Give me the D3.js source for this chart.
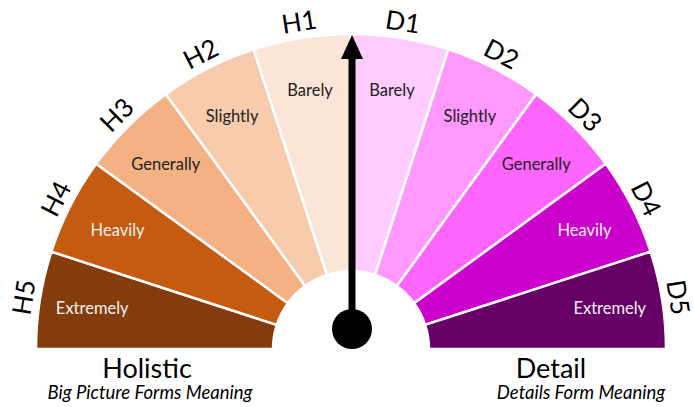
<!DOCTYPE html>
<html>
<head>
<meta charset="utf-8">
<script src="https://cdn.jsdelivr.net/npm/d3@7"></script>
<style>
  body { margin: 0; background: #fff; }
  svg { display: block; font-family: Lato, "Open Sans", sans-serif; }
</style>
</head>
<body>
<svg id="chart"></svg>
<script>
// gauge bands, left to right
const codes = ["H5", "H4", "H3", "H2", "H1", "D1", "D2", "D3", "D4", "D5"];
const degrees = ["Extremely", "Heavily", "Generally", "Slightly", "Barely",
                 "Barely", "Slightly", "Generally", "Heavily", "Extremely"];
const weights = [1, 1, 1, 1, 1, 1, 1, 1, 1, 1];
const fills = ["#843c0c", "#c55a11", "#f4b183", "#f8cbad", "#fbe5d6",
               "#ffccff", "#ff99ff", "#ff66ff", "#cc00cc", "#660066"];
const textFills = ["#f2f2f2", "#f2f2f2", "#222", "#222", "#222",
                   "#222", "#222", "#222", "#f2f2f2", "#f2f2f2"];
const needleValue = 0;   // -5 (holistic) .. 5 (detail)
const sideTitles = ["Holistic", "Detail"];
const sideSubtitles = ["Big Picture Forms Meaning", "Details Form Meaning"];
const topTitles = ["Feelings Drive Perception", "Reason Drives Perception"];

const width = 694, height = 407;
const cx = 351, cy = 349;
const outerR = 315, innerR = 78;

const svg = d3.select("#chart").attr("width", width).attr("height", height);
const g = svg.append("g").attr("transform", "translate(" + cx + "," + cy + ")");

const pie = d3.pie().sort(null).startAngle(-Math.PI / 2).endAngle(Math.PI / 2);
const arcs = pie(weights);
const arc = d3.arc().innerRadius(innerR).outerRadius(outerR);

g.selectAll("path.band")
  .data(arcs)
  .enter()
  .append("path")
  .attr("class", "band")
  .attr("d", arc)
  .style("fill", (d, i) => fills[i])
  .style("stroke", "#fff")
  .style("stroke-width", 2.5);

// words inside bands
const mid = d => (d.startAngle + d.endAngle) / 2;
const labelR = 262;
g.selectAll("text.degree")
  .data(arcs)
  .enter()
  .append("text")
  .attr("class", "degree")
  .attr("x", d => labelR * Math.sin(mid(d)))
  .attr("y", d => -labelR * Math.cos(mid(d)))
  .attr("text-anchor", "middle")
  .attr("dominant-baseline", "central")
  .style("font-size", "16.5px")
  .style("fill", (d, i) => textFills[i])
  .text((d, i) => degrees[i]);

// band codes outside the arc
const codeR = 332;
g.selectAll("text.code")
  .data(arcs)
  .enter()
  .append("text")
  .attr("class", "code")
  .attr("transform", d => {
    const a = mid(d);
    const x = codeR * Math.sin(a), y = -codeR * Math.cos(a);
    return "translate(" + x + "," + y + ") rotate(" + (a * 180 / Math.PI) + ")";
  })
  .attr("text-anchor", "middle")
  .attr("dominant-baseline", "central")
  .style("font-size", "26px")
  .style("fill", "#000")
  .text((d, i) => codes[i]);

// needle
const needleScale = d3.scaleLinear().domain([-5, 5]).range([-90, 90]);
const needle = g.append("g").attr("transform", "translate(1,0) rotate(" + needleScale(needleValue) + ")");
needle.append("rect")
  .attr("x", -3.5).attr("y", -292)
  .attr("width", 7).attr("height", 270)
  .style("fill", "#000");
needle.append("path")
  .attr("d", d3.line()([[-11, -290], [0, -314], [11, -290]]))
  .style("fill", "#000");
needle.append("circle")
  .attr("cx", 0).attr("cy", -20).attr("r", 20)
  .style("fill", "#000");

// side titles
const sideX = [147, 551];
const subX = [150, 581];
svg.selectAll("text.side")
  .data(sideTitles)
  .enter()
  .append("text")
  .attr("class", "side")
  .attr("x", (d, i) => sideX[i])
  .attr("y", 378)
  .attr("text-anchor", "middle")
  .style("font-size", "27px")
  .text(d => d);

svg.selectAll("text.sub")
  .data(sideSubtitles)
  .enter()
  .append("text")
  .attr("class", "sub")
  .attr("x", (d, i) => subX[i])
  .attr("y", 399)
  .attr("text-anchor", "middle")
  .style("font-size", "18.5px")
  .style("font-style", "italic")
  .text(d => d);

// titles clipped at the top edge
svg.selectAll("text.top")
  .data(topTitles)
  .enter()
  .append("text")
  .attr("class", "top")
  .attr("x", (d, i) => [150, 543][i])
  .attr("y", -3)
  .attr("text-anchor", "middle")
  .style("font-size", "20px")
  .text(d => d);
</script>
</body>
</html>
